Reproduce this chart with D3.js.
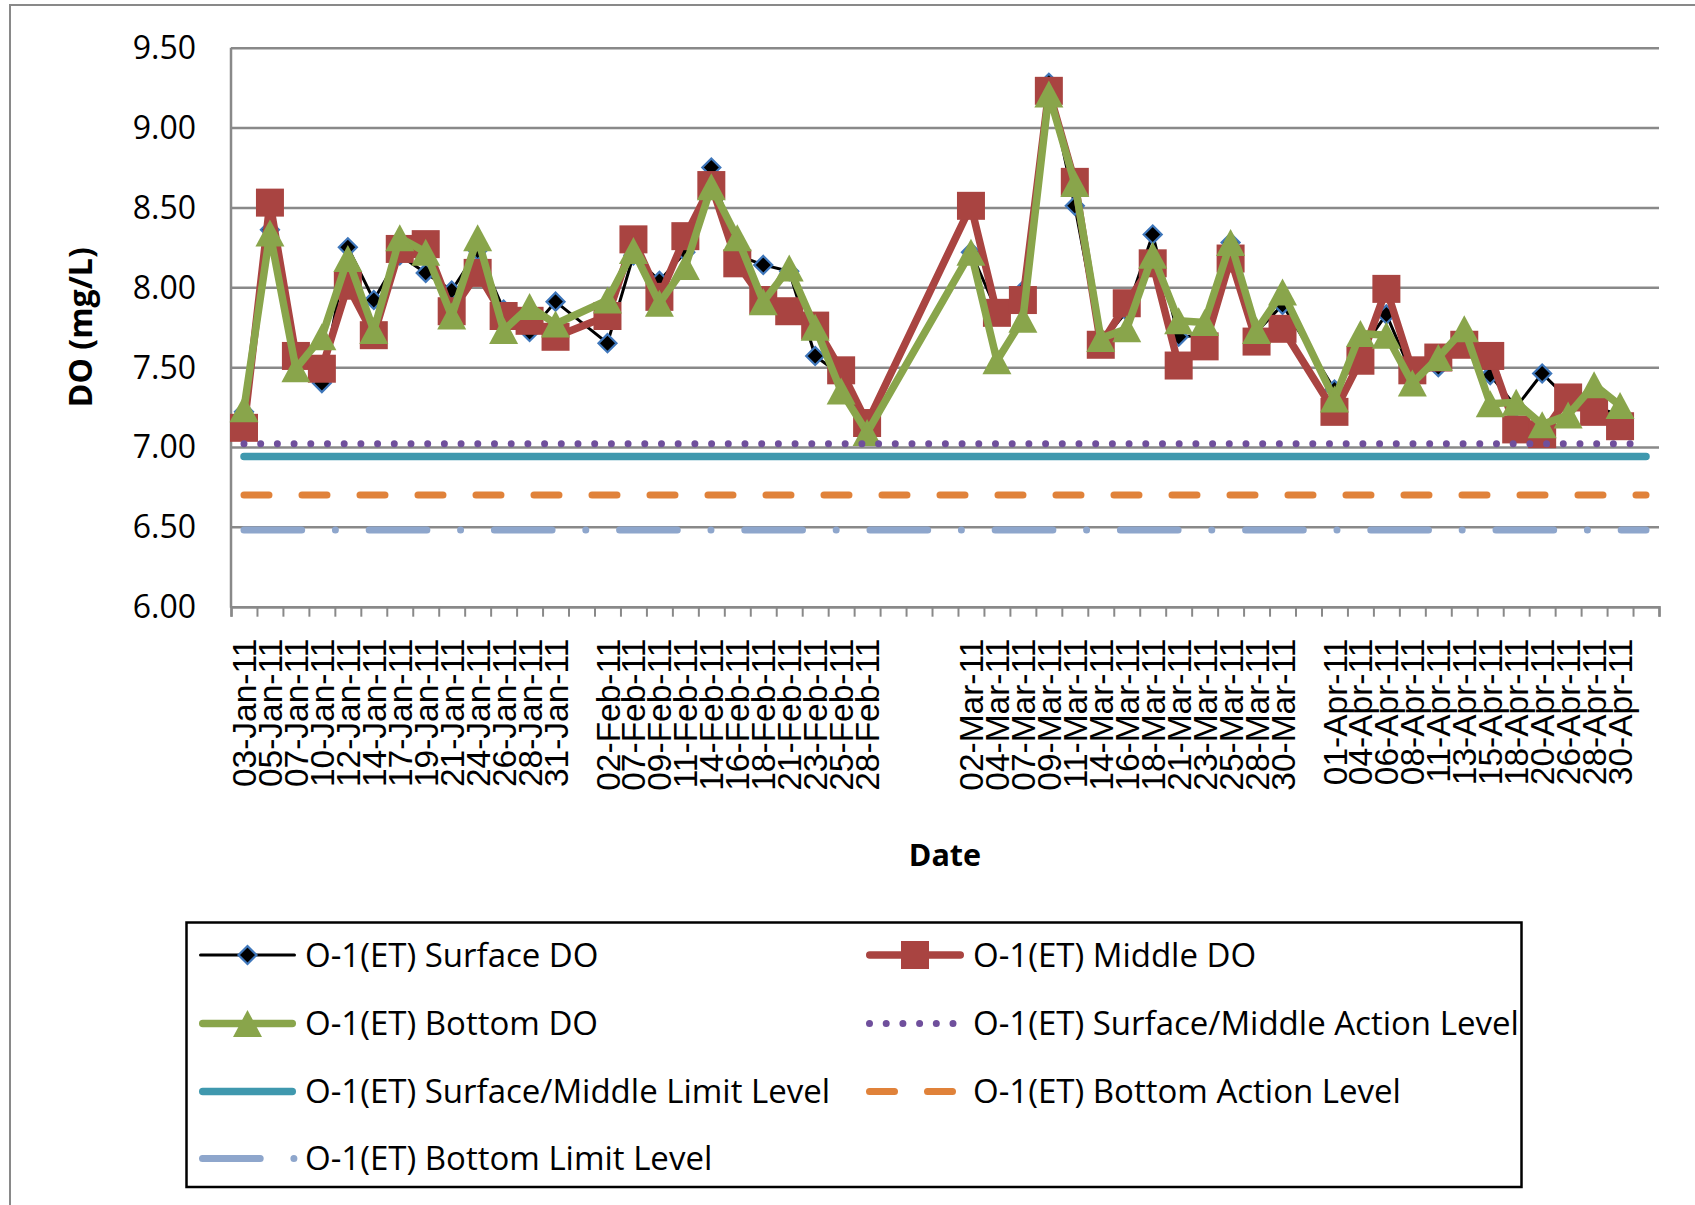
<!DOCTYPE html>
<html>
<head>
<meta charset="utf-8">
<script src="https://cdn.jsdelivr.net/npm/d3@7"></script>
<style>
  html, body { margin: 0; padding: 0; background: #ffffff; }
  svg { display: block; }
</style>
</head>
<body>
<svg id="chart" width="1695" height="1205"></svg>
<script>
// Sampling dates (blank entries are empty slots on the category axis)
const dates = [
  "03-Jan-11","05-Jan-11","07-Jan-11","10-Jan-11","12-Jan-11","14-Jan-11","17-Jan-11",
  "19-Jan-11","21-Jan-11","24-Jan-11","26-Jan-11","28-Jan-11","31-Jan-11","",
  "02-Feb-11","07-Feb-11","09-Feb-11","11-Feb-11","14-Feb-11","16-Feb-11","18-Feb-11",
  "21-Feb-11","23-Feb-11","25-Feb-11","28-Feb-11","","","",
  "02-Mar-11","04-Mar-11","07-Mar-11","09-Mar-11","11-Mar-11","14-Mar-11","16-Mar-11",
  "18-Mar-11","21-Mar-11","23-Mar-11","25-Mar-11","28-Mar-11","30-Mar-11","",
  "01-Apr-11","04-Apr-11","06-Apr-11","08-Apr-11","11-Apr-11","13-Apr-11","15-Apr-11",
  "18-Apr-11","20-Apr-11","26-Apr-11","28-Apr-11","30-Apr-11",""
];

// Dissolved oxygen, mg/L
const surfaceDO = [
  7.22, 8.36, 7.60, 7.40, 8.25, 7.92, 8.20, 8.09, 7.98, 8.23, 7.86, 7.72, 7.91, null,
  7.65, 8.20, 8.04, 8.22, 8.75, 8.20, 8.14, 8.10, 7.57, 7.45, 7.10, null, null, null,
  8.22, 7.85, 7.98, 9.28, 8.51, 7.65, 7.85, 8.33, 7.69, 7.70, 8.28, 7.72, 7.89, null,
  7.36, 7.60, 7.83, 7.45, 7.50, 7.66, 7.45, 7.25, 7.46, 7.30, 7.25, 7.20, null
];
const middleDO = [
  7.12, 8.53, 7.57, 7.49, 8.01, 7.70, 8.24, 8.27, 7.85, 8.09, 7.82, 7.79, 7.69, null,
  7.82, 8.30, 7.94, 8.32, 8.64, 8.15, 7.92, 7.85, 7.76, 7.48, 7.15, null, null, null,
  8.51, 7.84, 7.92, 9.23, 8.66, 7.64, 7.90, 8.15, 7.51, 7.63, 8.18, 7.66, 7.74, null,
  7.22, 7.54, 7.99, 7.48, 7.56, 7.64, 7.57, 7.11, 7.08, 7.31, 7.22, 7.13, null
];
const bottomDO = [
  7.24, 8.34, 7.49, 7.69, 8.18, 7.73, 8.31, 8.22, 7.82, 8.31, 7.73, 7.88, 7.77, null,
  7.92, 8.23, 7.90, 8.13, 8.63, 8.31, 7.91, 8.12, 7.75, 7.35, 7.09, null, null, null,
  8.22, 7.54, 7.80, 9.21, 8.65, 7.68, 7.74, 8.20, 7.79, 7.78, 8.28, 7.73, 7.97, null,
  7.30, 7.71, 7.70, 7.40, 7.56, 7.74, 7.27, 7.28, 7.14, 7.20, 7.39, 7.26, null
];

// Compliance levels, mg/L
const surfaceMiddleAction = 7.02;
const surfaceMiddleLimit = 6.94;
const bottomAction = 6.70;
const bottomLimit = 6.48;

const yTicks = [6.0, 6.5, 7.0, 7.5, 8.0, 8.5, 9.0, 9.5];

const seriesNames = [
  "O-1(ET) Surface DO", "O-1(ET) Middle DO", "O-1(ET) Bottom DO",
  "O-1(ET) Surface/Middle Action Level", "O-1(ET) Surface/Middle Limit Level",
  "O-1(ET) Bottom Action Level", "O-1(ET) Bottom Limit Level"
];

// ---------------------------------------------------------------------------
const svg = d3.select("#chart");
const plot = { left: 231, right: 1659, top: 47.7, bottom: 606.7 };
const gridColor = "#898989";

const idx = d3.range(dates.length);
const x = d3.scaleBand().domain(idx).range([plot.left, plot.right]).padding(0);
const cx = i => x(i) + x.bandwidth() / 2;
const xEdge = d3.scaleLinear().domain([0, dates.length]).range([plot.left, plot.right]);
const y = d3.scaleLinear().domain([6, 9.5]).range([plot.bottom, plot.top]);

// Chart frame
svg.append("rect")
  .attr("x", 10).attr("y", 5).attr("width", 1700).attr("height", 1210)
  .attr("fill", "#ffffff").attr("stroke", gridColor).attr("stroke-width", 2);

// Horizontal gridlines + y labels
const yAxis = svg.append("g")
  .attr("transform", `translate(${plot.left},0)`)
  .call(d3.axisLeft(y).tickValues(yTicks).tickFormat(d3.format(".2f"))
    .tickSize(-(plot.right - plot.left)).tickPadding(35));
yAxis.select(".domain").remove();
yAxis.selectAll(".tick line").attr("stroke", gridColor).attr("stroke-width", 2.5);
yAxis.selectAll(".tick text")
  .attr("font-family", "'Open Sans', sans-serif").attr("font-size", 32)
  .attr("fill", "#000").attr("dy", "0.34em");

// Vertical axis line
svg.append("line")
  .attr("x1", plot.left).attr("x2", plot.left)
  .attr("y1", plot.top).attr("y2", plot.bottom + 1)
  .attr("stroke", gridColor).attr("stroke-width", 2.5);

// Category boundary ticks
const xTicks = svg.append("g")
  .attr("transform", `translate(0,${plot.bottom})`)
  .call(d3.axisBottom(xEdge).tickValues(d3.range(dates.length + 1)).tickFormat("").tickSize(10));
xTicks.select(".domain").attr("stroke", gridColor).attr("stroke-width", 2.5);
xTicks.selectAll(".tick line").attr("stroke", gridColor).attr("stroke-width", 2);

// Date labels
const xLabels = svg.append("g")
  .attr("transform", `translate(0,${plot.bottom})`)
  .call(d3.axisBottom(x).tickFormat(i => dates[i]).tickSize(0));
xLabels.select(".domain").remove();
xLabels.selectAll(".tick text")
  .attr("font-family", "'Liberation Sans', Arial, sans-serif").attr("font-size", 33.5)
  .attr("fill", "#000")
  .attr("transform", "rotate(-90)")
  .attr("text-anchor", "end")
  .attr("x", -32).attr("y", 0).attr("dy", "0.36em");

// Axis titles
svg.append("text")
  .attr("transform", `translate(81,${(plot.top + plot.bottom) / 2}) rotate(-90)`)
  .attr("text-anchor", "middle").attr("dy", "0.35em")
  .attr("font-family", "'Open Sans', sans-serif").attr("font-weight", "bold").attr("font-size", 32)
  .text("DO (mg/L)");
svg.append("text")
  .attr("x", (plot.left + plot.right) / 2).attr("y", 855)
  .attr("text-anchor", "middle").attr("dy", "0.35em")
  .attr("font-family", "'Open Sans', sans-serif").attr("font-weight", "bold").attr("font-size", 30.5)
  .text("Date");

// Marker shapes
const diamondPath = s => `M0,${-s / 2}L${s / 2},0L0,${s / 2}L${-s / 2},0Z`;
const squarePath = s => `M${-s / 2},${-s / 2}h${s}v${s}h${-s}Z`;
const trianglePath = (w, h) => `M0,${-h / 2}L${w / 2},${h / 2}L${-w / 2},${h / 2}Z`;

const styles = {
  surface: { color: "#000000", width: 3, marker: diamondPath(18), fill: "#000000", mstroke: "#3f77bb", msw: 2.2 },
  middle: { color: "#a94441", width: 7.5, marker: squarePath(28), fill: "#a94441", mstroke: "none", msw: 0 },
  bottom: { color: "#89a54b", width: 7.5, marker: trianglePath(29, 27), fill: "#89a54b", mstroke: "none", msw: 0 }
};
const levelStyles = [
  { value: surfaceMiddleAction, color: "#6f4f9c", width: 7, dash: "0 16.7", cap: "round" },
  { value: surfaceMiddleLimit, color: "#3f98ae", width: 7.5, dash: null, cap: "round" },
  { value: bottomAction, color: "#e0823a", width: 7, dash: "25 33", cap: "round" },
  { value: bottomLimit, color: "#8ea6cc", width: 7, dash: "57.7 33.7 0 33.8", cap: "round" }
];

const line = d3.line().x(d => cx(d.i)).y(d => y(d.v));

function drawSeries(values, st) {
  const pts = values.map((v, i) => ({ i, v })).filter(d => d.v !== null);
  const g = svg.append("g");
  g.append("path").datum(pts).attr("d", line)
    .attr("fill", "none").attr("stroke", st.color).attr("stroke-width", st.width)
    .attr("stroke-linejoin", "round").attr("stroke-linecap", "round");
  g.selectAll("path.marker").data(pts).join("path").attr("class", "marker")
    .attr("transform", d => `translate(${cx(d.i)},${y(d.v)})`)
    .attr("d", st.marker).attr("fill", st.fill)
    .attr("stroke", st.mstroke).attr("stroke-width", st.msw);
}
drawSeries(surfaceDO, styles.surface);
drawSeries(middleDO, styles.middle);
drawSeries(bottomDO, styles.bottom);

// Level lines across all categories
levelStyles.forEach(ls => {
  const pts = idx.map(i => ({ i, v: ls.value }));
  svg.append("path").datum(pts).attr("d", line)
    .attr("fill", "none").attr("stroke", ls.color).attr("stroke-width", ls.width)
    .attr("stroke-linecap", ls.cap)
    .attr("stroke-dasharray", ls.dash);
});

// Legend
const lg = { x: 186.5, y: 922.5, w: 1335, h: 264.5 };
svg.append("clipPath").attr("id", "legendClip")
  .append("rect").attr("x", lg.x).attr("y", lg.y).attr("width", lg.w).attr("height", lg.h);
const legend = svg.append("g");
legend.append("rect")
  .attr("x", lg.x).attr("y", lg.y).attr("width", lg.w).attr("height", lg.h)
  .attr("fill", "#ffffff").attr("stroke", "#000000").attr("stroke-width", 2.5);
const legendItems = legend.append("g").attr("clip-path", "url(#legendClip)");

const rowsY = [955, 1023.5, 1091.5, 1158.5];
const cols = [{ s0: 199, s1: 296, tx: 305 }, { s0: 866, s1: 964, tx: 973 }];
const entries = [
  { name: seriesNames[0], col: 0, row: 0, kind: "series", st: styles.surface },
  { name: seriesNames[1], col: 1, row: 0, kind: "series", st: styles.middle },
  { name: seriesNames[2], col: 0, row: 1, kind: "series", st: styles.bottom },
  { name: seriesNames[3], col: 1, row: 1, kind: "level", st: levelStyles[0] },
  { name: seriesNames[4], col: 0, row: 2, kind: "level", st: levelStyles[1] },
  { name: seriesNames[5], col: 1, row: 2, kind: "level", st: levelStyles[2] },
  { name: seriesNames[6], col: 0, row: 3, kind: "level", st: levelStyles[3] }
];
entries.forEach(e => {
  const c = cols[e.col], yy = rowsY[e.row];
  const g = legendItems.append("g");
  const dashed = e.kind === "level" && e.st.dash;
  g.append("line")
    .attr("x1", c.s0 + e.st.width / 2).attr("x2", dashed ? c.s1 : c.s1 - e.st.width / 2)
    .attr("y1", yy).attr("y2", yy)
    .attr("stroke", e.st.color).attr("stroke-width", e.st.width)
    .attr("stroke-linecap", e.st.cap || "round")
    .attr("stroke-dasharray", dashed ? e.st.dash : null);
  if (e.kind === "series") {
    g.append("path").attr("transform", `translate(${(c.s0 + c.s1) / 2},${yy})`)
      .attr("d", e.st.marker).attr("fill", e.st.fill)
      .attr("stroke", e.st.mstroke).attr("stroke-width", e.st.msw);
  }
  g.append("text").attr("x", c.tx).attr("y", yy).attr("dy", "0.35em")
    .attr("font-family", "'Open Sans', sans-serif").attr("font-size", 33)
    .attr("fill", "#000").text(e.name);
});
</script>
</body>
</html>
